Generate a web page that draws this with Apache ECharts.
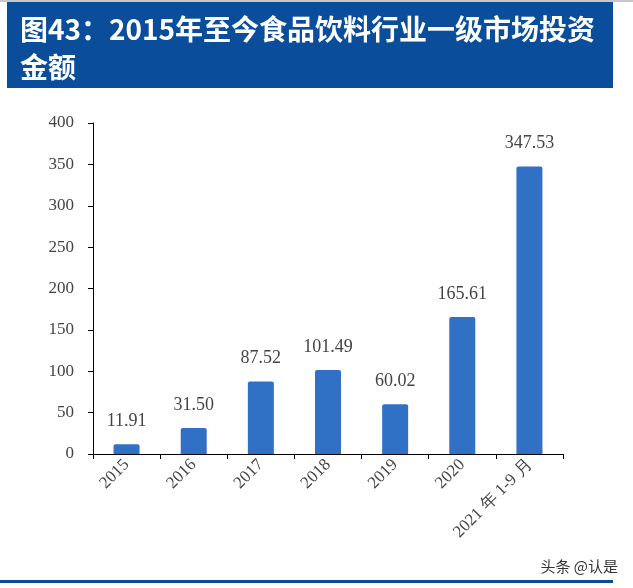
<!DOCTYPE html>
<html><head><meta charset="utf-8">
<script src="https://cdn.jsdelivr.net/npm/echarts@6/dist/echarts.min.js"></script>
<style>html,body{margin:0;padding:0;background:#fff}#c{width:633px;height:588px}</style>
</head><body><div id="c"></div>
<script>
const categories = ['2015','2016','2017','2018','2019','2020','2021 年 1-9 月'];
const values = [11.91, 31.50, 87.52, 101.49, 60.02, 165.61, 347.53];
const yTicks = [0, 50, 100, 150, 200, 250, 300, 350, 400];

const chart = echarts.init(document.getElementById('c'));
const serif = '"Liberation Serif","DejaVu Serif",serif';
chart.setOption({
  animation: false,
  backgroundColor: '#fff',
  graphic: [
    {type:'rect', shape:{x:0,y:0,width:633,height:2}, style:{fill:'#c8c8c8'}},
    {type:'rect', shape:{x:7,y:2,width:606,height:86}, style:{fill:'#0A4E9B'}},
    {type:'text', left:20, top:10, style:{text:'图43：2015年至今食品饮料行业一级市场投资\n金额', fill:'#fff', font:'bold 28px "Noto Sans CJK SC", sans-serif', lineHeight:38}},
    {type:'rect', shape:{x:0,y:580,width:613,height:3}, style:{fill:'#0A4E9B'}},
    {type:'text', right:15, top:559, style:{text:'头条 @认是', fill:'#333', font:'15px "Noto Sans CJK SC", sans-serif'}}
  ],
  grid: {left:93, right:70, top:123, bottom:134},
  xAxis: {
    type:'category', data:categories,
    axisLine:{lineStyle:{color:'#000', width:1}},
    axisTick:{show:true, length:5, lineStyle:{color:'#000'}},
    axisLabel:{rotate:45, color:'#444', fontFamily:serif, fontSize:17, margin:8}
  },
  yAxis: {
    type:'value', min:0, max:400, interval:50,
    axisLine:{show:true, lineStyle:{color:'#000'}},
    axisTick:{show:true, length:5, lineStyle:{color:'#000'}},
    splitLine:{show:false},
    axisLabel:{color:'#444', fontFamily:serif, fontSize:17, margin:19,
      formatter: v => yTicks.includes(v) ? String(v) : ''}
  },
  series: [{
    type:'bar', data:values, barWidth:26,
    itemStyle:{color:'#3171C5', borderRadius:[2,2,0,0]},
    label:{show:true, position:'top', distance:14, color:'#444', fontFamily:serif, fontSize:18,
      formatter: p => p.value.toFixed(2)}
  }]
});
</script></body></html>
